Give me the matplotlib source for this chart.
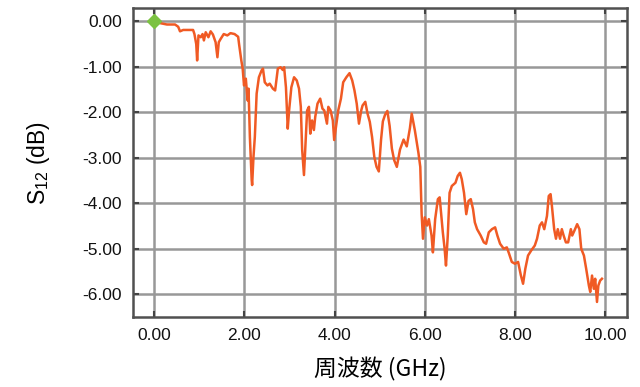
import numpy as np
import matplotlib
matplotlib.use('Agg')
from matplotlib import pyplot as plt

# S12 trace (GHz, dB)
freq = [0.0, 0.13, 0.28, 0.46, 0.53, 0.57, 0.64, 0.86, 0.89, 0.93, 0.95, 0.98, 1.03, 1.07, 1.10,
        1.14, 1.20, 1.25, 1.30, 1.36, 1.40, 1.43, 1.47, 1.54, 1.62, 1.69, 1.78, 1.86, 1.88, 1.93,
        1.96, 1.99, 2.03, 2.07, 2.09, 2.12, 2.16, 2.17, 2.20, 2.23, 2.27, 2.32, 2.38, 2.41, 2.45,
        2.51, 2.56, 2.63, 2.68, 2.74, 2.80, 2.85, 2.88, 2.92, 2.96, 2.99, 3.04, 3.10, 3.16, 3.21,
        3.25, 3.28, 3.32, 3.36, 3.39, 3.43, 3.46, 3.50, 3.54, 3.57, 3.62, 3.68, 3.73, 3.77, 3.83,
        3.86, 3.91, 3.96, 3.99, 4.03, 4.08, 4.14, 4.19, 4.26, 4.33, 4.39, 4.44, 4.49, 4.54, 4.59,
        4.62, 4.68, 4.73, 4.78, 4.83, 4.88, 4.93, 4.98, 5.03, 5.07, 5.12, 5.17, 5.22, 5.27, 5.32,
        5.38, 5.45, 5.53, 5.60, 5.67, 5.71, 5.78, 5.86, 5.90, 5.93, 5.96, 6.00, 6.05, 6.09, 6.15,
        6.18, 6.23, 6.29, 6.33, 6.36, 6.40, 6.44, 6.47, 6.51, 6.55, 6.60, 6.68, 6.73, 6.78, 6.82,
        6.87, 6.92, 6.97, 7.02, 7.07, 7.11, 7.16, 7.24, 7.31, 7.36, 7.42, 7.49, 7.56, 7.61, 7.67,
        7.75, 7.82, 7.87, 7.93, 8.00, 8.07, 8.13, 8.18, 8.23, 8.29, 8.36, 8.44, 8.49, 8.55, 8.60,
        8.65, 8.71, 8.75, 8.79, 8.82, 8.87, 8.91, 8.95, 9.00, 9.04, 9.08, 9.13, 9.18, 9.24, 9.27,
        9.32, 9.38, 9.43, 9.47, 9.53, 9.58, 9.64, 9.67, 9.71, 9.75, 9.78, 9.82, 9.85, 9.89, 9.93]
s12 = [0.0, -0.04, -0.07, -0.07, -0.12, -0.22, -0.19, -0.19, -0.28, -0.50, -0.86, -0.31, -0.35, -0.28, -0.42,
       -0.24, -0.35, -0.22, -0.29, -0.46, -0.79, -0.46, -0.39, -0.28, -0.31, -0.26, -0.28, -0.34, -0.50, -0.86,
       -1.04, -1.41, -1.26, -1.74, -1.48, -2.54, -3.49, -3.60, -2.98, -2.54, -1.59, -1.23, -1.08, -1.04, -1.34,
       -1.41, -1.37, -1.48, -1.52, -1.04, -1.01, -1.07, -1.01, -1.45, -2.36, -1.96, -1.45, -1.23, -1.30, -1.48,
       -1.88, -2.83, -3.38, -2.54, -1.96, -1.88, -2.47, -2.18, -2.39, -2.10, -1.81, -1.70, -1.92, -1.96, -2.25,
       -1.88, -1.96, -2.18, -2.61, -2.32, -1.96, -1.70, -1.34, -1.23, -1.14, -1.30, -1.52, -1.81, -2.25, -1.96,
       -1.85, -1.77, -2.03, -2.21, -2.54, -2.98, -3.20, -3.30, -2.60, -2.20, -2.05, -1.97, -2.30, -2.80, -3.05,
       -3.20, -2.82, -2.60, -2.75, -2.35, -2.03, -2.40, -2.90, -3.20, -4.24, -4.78, -4.31, -4.49, -4.35, -4.71,
       -5.08, -4.35, -3.91, -3.87, -4.20, -4.64, -5.00, -5.37, -4.71, -3.77, -3.62, -3.55, -3.40, -3.33, -3.47,
       -3.77, -4.24, -3.95, -3.91, -4.13, -4.42, -4.57, -4.71, -4.86, -4.89, -4.64, -4.57, -4.53, -4.71, -4.89,
       -5.00, -4.97, -5.11, -5.29, -5.33, -5.29, -5.58, -5.77, -5.44, -5.15, -5.04, -4.93, -4.78, -4.49, -4.42,
       -4.57, -4.28, -3.84, -3.80, -4.06, -4.57, -4.78, -4.57, -4.78, -4.57, -4.71, -4.86, -4.86, -4.57, -4.71,
       -4.60, -4.46, -4.57, -5.00, -5.15, -5.44, -5.81, -5.95, -5.59, -5.88, -5.66, -6.17, -5.81, -5.70, -5.66]

x_ticks = [0, 2, 4, 6, 8, 10]
y_ticks = [0, -1, -2, -3, -4, -5, -6]

plt.rcParams['font.family'] = ['Liberation Sans', 'DejaVu Sans']
plt.rcParams['mathtext.fontset'] = 'custom'
plt.rcParams['mathtext.rm'] = 'Liberation Sans'
plt.rcParams['mathtext.it'] = 'Liberation Sans'

fig = plt.figure(figsize=(6.4, 3.87), dpi=100)
ax = fig.add_axes([0.208, 0.181, 0.772, 0.798])

ax.plot(freq, s12, color='#f05a24', lw=1.8, zorder=3)
ax.plot([freq[0]], [s12[0]], marker='D', ms=7, color='#7cc242', mec='#7cc242', zorder=4)

ax.set_xlim(-0.47, 10.49)
ax.set_ylim(-6.5, 0.29)
ax.set_xticks(x_ticks)
ax.set_yticks(y_ticks)
ax.set_xticklabels(['%.2f' % v for v in x_ticks])
ax.set_yticklabels(['%.2f' % v for v in y_ticks])
ax.grid(True, color='#989898', lw=1.8, zorder=1)
ax.set_axisbelow(True)
ax.tick_params(direction='in', length=4, width=1.5, color='#444444', labelsize=12.5,
               top=True, right=True, pad=8, labelcolor='#111111')
for sp in ax.spines.values():
    sp.set_color('#505050')
    sp.set_linewidth(1.8)

ax.set_ylabel(r'S$_{\rm 12}$ (dB)', fontsize=16.5, labelpad=22)
ax.set_xlabel('周波数 (GHz)', fontsize=16.5, family=['Noto Sans CJK JP', 'DejaVu Sans'], labelpad=10)

fig.savefig('out.png', dpi=100)
